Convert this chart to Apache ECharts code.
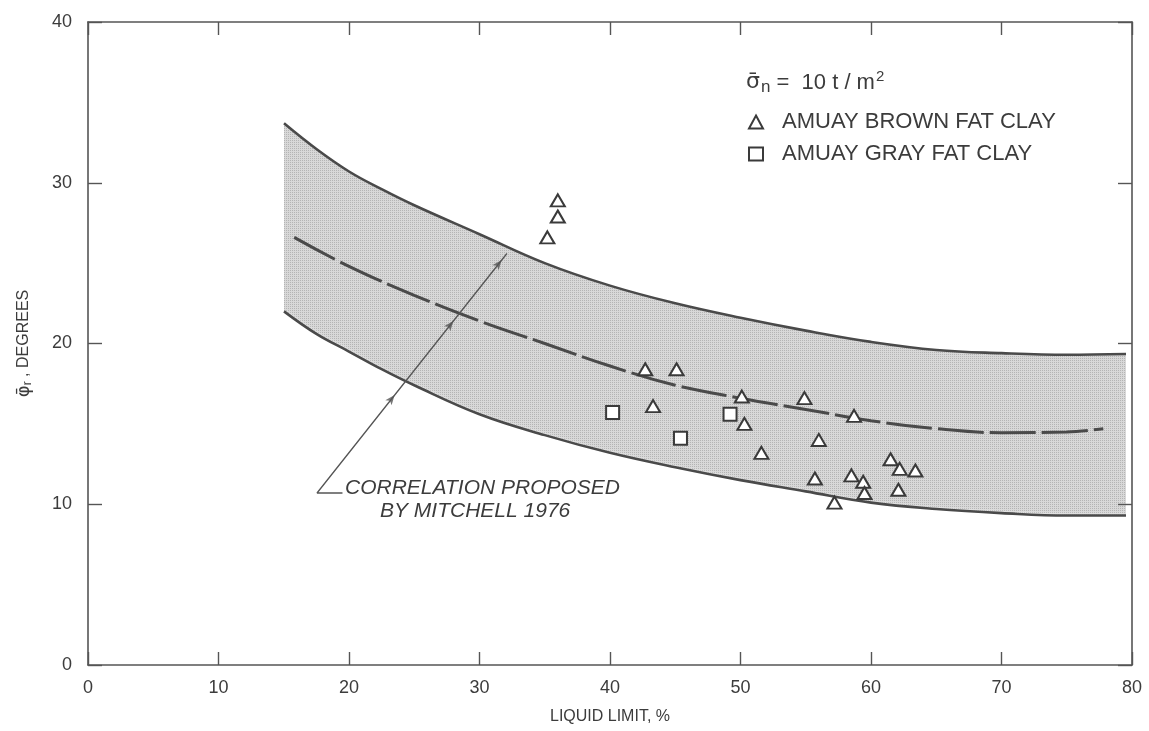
<!DOCTYPE html>
<html><head><meta charset="utf-8">
<script src="https://cdn.jsdelivr.net/npm/echarts@6/dist/echarts.min.js"></script>
<style>html,body{margin:0;padding:0;background:#fff}#c{width:1149px;height:731px}</style>
</head><body><div id="c"></div>
<script>
// ---- data ----
const xTickValues = [0, 10, 20, 30, 40, 50, 60, 70, 80];
const yTickValues = [0, 10, 20, 30, 40];
const bandX  = [15.02, 17.5, 20, 22.5, 25, 30, 35, 40, 45, 50, 55, 60, 65, 70, 75, 79.54];
const upperY = [33.7, 32.1, 30.7, 29.6, 28.6, 26.8, 25.0, 23.6, 22.5, 21.6, 20.8, 20.1, 19.6, 19.4, 19.3, 19.35];
const lowerY = [22.0, 20.6, 19.5, 18.4, 17.4, 15.6, 14.3, 13.2, 12.3, 11.5, 10.8, 10.1, 9.7, 9.45, 9.3, 9.3];
const mitchellX = [15.8, 20, 25, 30, 35, 40, 45, 50, 55, 60, 65, 70, 75, 77.8];
const mitchellY = [26.6, 24.8, 23.0, 21.4, 20.0, 18.6, 17.4, 16.6, 15.9, 15.2, 14.7, 14.45, 14.5, 14.7];
const brownClay = [[35.2,26.6],[36.0,27.9],[36.0,28.9],[42.7,18.4],[45.1,18.4],[43.3,16.1],
  [50.1,16.7],[50.3,15.0],[51.6,13.2],[54.9,16.6],[56.0,14.0],[58.7,15.5],[55.7,11.6],
  [58.5,11.8],[59.4,11.4],[59.5,10.7],[61.5,12.8],[62.2,12.2],[63.4,12.1],[62.1,10.9],[57.2,10.1]];
const grayClay = [[40.2,15.7],[45.4,14.1],[49.2,15.6]];
const leaderLine = [[19.5,10.7],[17.55,10.7],[32.1,25.6]];
const leaderArrows = [[23.5,16.8],[28.0,21.4],[31.7,25.2]];
const seriesNames = ['AMUAY BROWN FAT CLAY', 'AMUAY GRAY FAT CLAY'];
const noteLines = ['CORRELATION PROPOSED', 'BY MITCHELL 1976'];

// ---- styles ----
const FONT = '"Liberation Sans", Arial, sans-serif';
const GREEK = '"DejaVu Sans", "Liberation Sans", sans-serif';
const INK = '#3c3c3c';
const LINE = '#4a4a4a';

// stipple pattern for the band
const pc = document.createElement('canvas');
pc.width = 2; pc.height = 2;
const pctx = pc.getContext('2d');
pctx.fillStyle = '#d8d8d8'; pctx.fillRect(0,0,2,2);
pctx.fillStyle = '#b4b4b4'; pctx.fillRect(0,0,1,1);

const zip = (xs, ys) => xs.map((x, i) => [x, ys[i]]);

const chart = echarts.init(document.getElementById('c'), null, {renderer: 'canvas'});

function axis(extra) {
  return Object.assign({
    type: 'value', z: 10,
    axisLine: {show: true, onZero: false, lineStyle: {color: '#555', width: 1.6}},
    splitLine: {show: false},
    axisTick: {show: true, inside: true, length: 13, lineStyle: {color: '#555', width: 1.4}}
  }, extra);
}

chart.setOption({
  backgroundColor: '#ffffff',
  animation: false,
  grid: {left: 88, top: 22, right: 17, bottom: 66, containLabel: false},
  title: {
    left: 741, top: 64,
    text: '{s|σ̄}{sub|n}{t| =  10 t / m}{sup|2}',
    textStyle: {
      fontWeight: 'normal',
      rich: {
        s: {fontFamily: GREEK, fontSize: 22, color: INK, fontWeight: 'normal'},
        sub: {fontFamily: FONT, fontSize: 17, color: INK, fontWeight: 'normal', verticalAlign: 'bottom', padding: [10, 0, 0, 1]},
        t: {fontFamily: FONT, fontSize: 22, color: INK, fontWeight: 'normal'},
        sup: {fontFamily: FONT, fontSize: 15, color: INK, fontWeight: 'normal', verticalAlign: 'top', padding: [0, 0, 10, 1]}
      }
    }
  },
  legend: {
    orient: 'vertical', left: 743, top: 106, itemGap: 10,
    itemWidth: 14, itemHeight: 13,
    data: seriesNames,
    textStyle: {fontFamily: FONT, fontSize: 22, color: INK, padding: [0, 0, 0, 14]}
  },
  xAxis: [
    axis({
      min: xTickValues[0], max: xTickValues[xTickValues.length - 1], interval: 10,
      position: 'bottom',
      axisLabel: {fontFamily: FONT, fontSize: 18, color: INK, margin: 14},
      name: 'LIQUID LIMIT, %', nameLocation: 'middle', nameGap: 44,
      nameTextStyle: {fontFamily: FONT, fontSize: 16, color: INK}
    }),
    axis({
      min: xTickValues[0], max: xTickValues[xTickValues.length - 1], interval: 10,
      position: 'top', axisLabel: {show: false}
    })
  ],
  yAxis: [
    axis({
      min: yTickValues[0], max: yTickValues[yTickValues.length - 1], interval: 10,
      position: 'left',
      axisTick: {show: true, inside: true, length: 14, lineStyle: {color: '#555', width: 1.4}},
      axisLabel: {fontFamily: FONT, fontSize: 18, color: INK, margin: 16},
      name: '{p|φ̄}{r|r}{t| , DEGREES}', nameLocation: 'middle', nameGap: 54, nameRotate: 90,
      nameTextStyle: {
        rich: {
          p: {fontFamily: GREEK, fontSize: 18, color: INK},
          r: {fontFamily: FONT, fontSize: 12, color: INK, verticalAlign: 'bottom', padding: [8, 0, 0, 0]},
          t: {fontFamily: FONT, fontSize: 16, color: INK}
        }
      }
    }),
    axis({
      min: yTickValues[0], max: yTickValues[yTickValues.length - 1], interval: 10,
      position: 'right',
      axisTick: {show: true, inside: true, length: 14, lineStyle: {color: '#555', width: 1.4}},
      axisLabel: {show: false}
    })
  ],
  series: [
    {
      name: 'upper', type: 'line', smooth: 0.4, symbol: 'none', z: 1,
      data: zip(bandX, upperY),
      lineStyle: {color: LINE, width: 2.6},
      areaStyle: {color: {image: pc, repeat: 'repeat'}, opacity: 1, origin: 'start'}
    },
    {
      name: 'lower', type: 'line', smooth: 0.4, symbol: 'none', z: 2,
      data: zip(bandX, lowerY),
      lineStyle: {color: LINE, width: 2.6},
      areaStyle: {color: '#ffffff', opacity: 1, origin: 'start', shadowColor: '#ffffff', shadowBlur: 4}
    },
    {
      name: 'mitchell', type: 'line', smooth: 0.4, symbol: 'none', z: 3,
      data: zip(mitchellX, mitchellY),
      lineStyle: {color: LINE, width: 3, type: [46, 6]}
    },
    {
      name: 'leader', type: 'line', symbol: 'none', z: 4,
      data: leaderLine,
      lineStyle: {color: '#555', width: 1.3}
    },
    {
      name: 'arrows', type: 'scatter', symbol: 'arrow', symbolSize: [6, 10], symbolRotate: -38.4, z: 4,
      data: leaderArrows,
      itemStyle: {color: '#555'}
    },
    {
      name: seriesNames[0], type: 'scatter', symbol: 'triangle', symbolSize: [14, 12], z: 5,
      data: brownClay,
      itemStyle: {color: '#ffffff', borderColor: '#3a3a3a', borderWidth: 2, opacity: 1}
    },
    {
      name: seriesNames[1], type: 'scatter', symbol: 'rect', symbolSize: 13, z: 5,
      data: grayClay,
      itemStyle: {color: '#ffffff', borderColor: '#3a3a3a', borderWidth: 2, opacity: 1}
    }
  ],
  graphic: [
    {type: 'text', left: 345, top: 478, z: 20, style: {text: noteLines[0], font: 'italic 21px ' + FONT, fill: INK}},
    {type: 'text', left: 380, top: 501, z: 20, style: {text: noteLines[1], font: 'italic 21px ' + FONT, fill: INK}}
  ]
});
</script>
</body></html>
